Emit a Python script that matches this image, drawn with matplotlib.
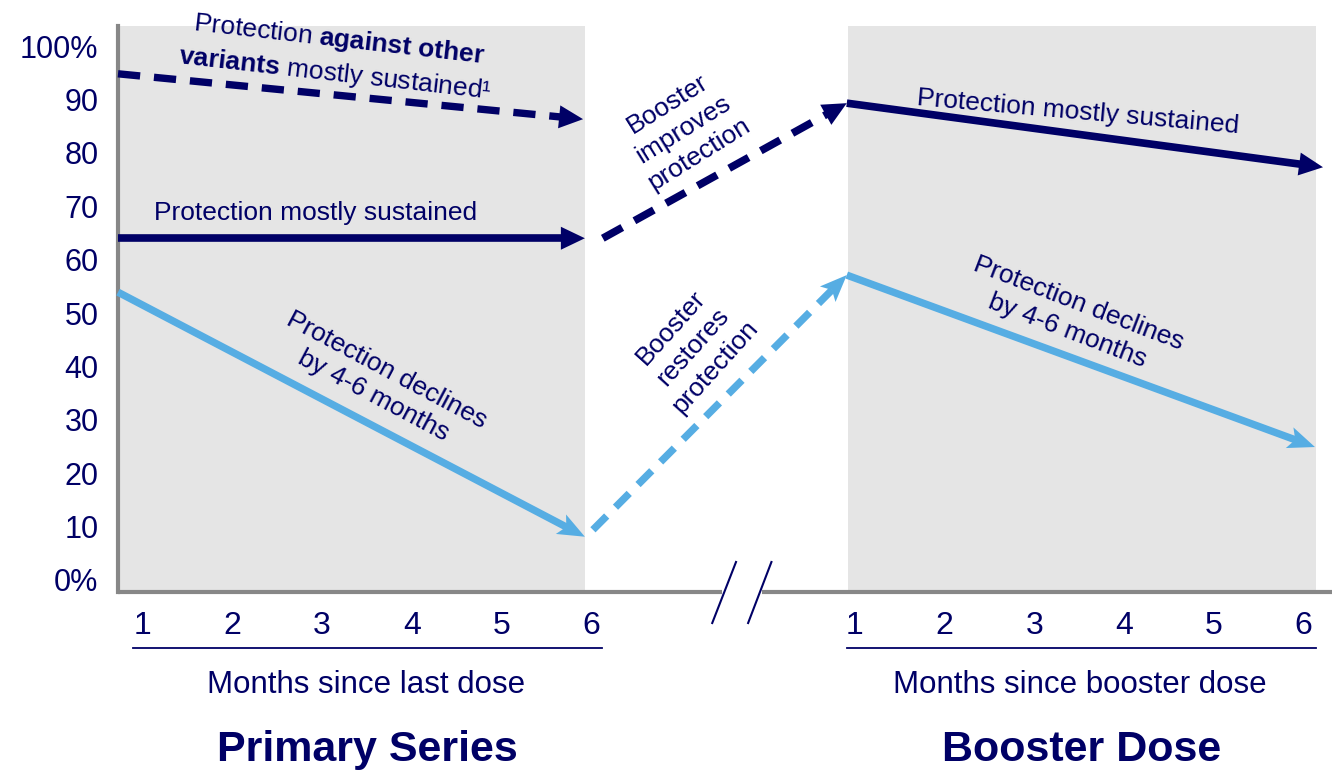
import matplotlib
matplotlib.use('Agg')
import matplotlib.pyplot as plt
import matplotlib.transforms as mtransforms
from matplotlib.patches import Polygon
from matplotlib.lines import Line2D
import numpy as np

plt.rcParams['font.family'] = ['Liberation Sans', 'DejaVu Sans']
plt.rcParams['mathtext.fontset'] = 'custom'
plt.rcParams['mathtext.rm'] = 'Liberation Sans'
plt.rcParams['mathtext.bf'] = 'Liberation Sans:bold'
plt.rcParams['mathtext.it'] = 'Liberation Sans:italic'
plt.rcParams['lines.scale_dashes'] = False

# ---------------- data ----------------
month_labels = ['1', '2', '3', '4', '5', '6']
primary_months = [1, 2, 3, 4, 5, 6]
booster_offset = 7.94
booster_months = [m + booster_offset for m in primary_months]

y_ticks = [0, 10, 20, 30, 40, 50, 60, 70, 80, 90, 100]
y_tick_labels = ['0%', '10', '20', '30', '40', '50', '60', '70', '80', '90', '100%']

# protection level segments (x in month units on a shared axis, y in %)
variants_primary_x = [0.7246, 5.91]
variants_primary_y = [94.8, 86.3]
sustained_primary_x = [0.7246, 5.93]
sustained_primary_y = [64.0, 64.0]
declines_primary_x = [0.7246, 5.93]
declines_primary_y = [53.9, 8.1]
improves_bridge_x = [6.13, 8.85]
improves_bridge_y = [64.0, 89.3]
restores_bridge_x = [6.02, 8.85]
restores_bridge_y = [9.4, 57.1]
sustained_booster_x = [8.85, 14.16]
sustained_booster_y = [89.3, 77.3]
declines_booster_x = [8.85, 14.07]
declines_booster_y = [57.1, 24.9]

primary_panel = [0.7246, 5.93]
booster_panel = [8.86, 14.08]

# ---------------- style ----------------
NAVY = '#000066'
LIGHT = '#56ADE3'
PANEL = '#E5E5E5'
AXIS = '#878787'

W, H = 1342, 772
fig = plt.figure(figsize=(W / 100, H / 100), dpi=100)
ax = fig.add_axes([118 / W, 1 - 592 / H, (1332 - 118) / W, (592 - 26) / H])
ax.set_xlim(0.7246, 14.26)
ax.set_ylim(-2.25, 103.75)


def px(x, y):
    return (x / W, 1 - y / H)


ax.axvspan(*primary_panel, color=PANEL, lw=0, zorder=0)
ax.axvspan(*booster_panel, color=PANEL, lw=0, zorder=0)

for s in ['top', 'right', 'bottom']:
    ax.spines[s].set_visible(False)
ax.spines['left'].set_color(AXIS)
ax.spines['left'].set_linewidth(3)

ax.set_yticks(y_ticks, y_tick_labels)
ax.tick_params(axis='y', length=0, pad=14, labelsize=22, labelcolor=NAVY)
ax.set_xticks(primary_months + booster_months, month_labels + month_labels)
ax.tick_params(axis='x', length=0, pad=13.5, labelsize=23, labelcolor=NAVY)

# broken bottom axis
blend = mtransforms.blended_transform_factory(ax.transData, ax.transAxes)
ax.plot([0.7246, 7.458], [0, 0], transform=blend, color=AXIS, lw=3,
        clip_on=False, solid_capstyle='butt', zorder=3)
ax.plot([7.904, 14.26], [0, 0], transform=blend, color=AXIS, lw=3,
        clip_on=False, solid_capstyle='butt', zorder=3)
for xa, xb in [(7.35, 7.615), (7.75, 8.01)]:
    ax.plot([xa, xb], [-0.0548, 0.053], transform=blend, color=NAVY, lw=1.5,
            clip_on=False, zorder=4)

fig.canvas.draw()
inv = ax.transData.inverted()


def draw_arrow(xs, ys, color, lw, dashed, head_len, head_w, notch, dashes=(16, 10)):
    p0 = ax.transData.transform((xs[0], ys[0]))
    p1 = ax.transData.transform((xs[1], ys[1]))
    d = p1 - p0
    L = np.hypot(*d)
    u = d / L
    n = np.array([-u[1], u[0]])
    back = p1 - u * head_len
    notch_pt = back + u * notch
    stop = inv.transform(back + u * (notch + 2))
    kw = dict(color=color, lw=lw, solid_capstyle='butt', dash_capstyle='butt',
              clip_on=False, zorder=5)
    if dashed:
        kw['linestyle'] = (0, dashes)
    ax.plot([xs[0], stop[0]], [ys[0], stop[1]], **kw)
    pts = np.array([p1, back + n * head_w, notch_pt, back - n * head_w])
    ax.add_patch(Polygon(inv.transform(pts), closed=True, facecolor=color,
                         edgecolor='none', clip_on=False, zorder=6))


draw_arrow(variants_primary_x, variants_primary_y, NAVY, 5.3, True, 24, 11.5, 0)
draw_arrow(sustained_primary_x, sustained_primary_y, NAVY, 5.5, False, 24, 11.5, 0)
draw_arrow(declines_primary_x, declines_primary_y, LIGHT, 5.3, False, 27, 11, 6)
draw_arrow(improves_bridge_x, improves_bridge_y, NAVY, 5.5, True, 24, 11.5, 0)
draw_arrow(restores_bridge_x, restores_bridge_y, LIGHT, 5.3, True, 27, 11, 6, dashes=(14, 9))
draw_arrow(sustained_booster_x, sustained_booster_y, NAVY, 5.5, False, 24, 11.5, 0)
draw_arrow(declines_booster_x, declines_booster_y, LIGHT, 5.3, False, 27, 11, 6)

# ---------------- annotations ----------------
tkw = dict(ha='center', va='center', rotation_mode='anchor', color=NAVY,
           fontsize=19, linespacing=1.3, multialignment='center')
fig.text(*px(337, 57), 'Protection $\\mathbf{against\\ other}$\n$\\mathbf{variants}$ mostly sustained\u00b9',
         rotation=-6.5, **tkw)
fig.text(*px(316, 213), 'Protection mostly sustained', rotation=0, **tkw)
fig.text(*px(380, 383), 'Protection declines\nby 4-6 months', rotation=-28, **tkw)
fig.text(*px(683, 129), 'Booster\nimproves\nprotection', rotation=32, **tkw)
fig.text(*px(693, 347), 'Booster\nrestores\nprotection', rotation=48, **tkw)
fig.text(*px(1078, 112), 'Protection mostly sustained', rotation=-5, **tkw)
fig.text(*px(1073, 317), 'Protection declines\nby 4-6 months', rotation=-21, **tkw)

# underlines and axis titles
for xa, xb in [(133, 602), (847, 1316)]:
    fig.add_artist(Line2D([xa / W, xb / W], [1 - 648 / H, 1 - 648 / H],
                          transform=fig.transFigure, color=NAVY, lw=1.3))
fig.text(*px(366, 685), 'Months since last dose', ha='center', va='center',
         fontsize=22.5, color=NAVY)
fig.text(*px(1080, 685), 'Months since booster dose', ha='center', va='center',
         fontsize=22.5, color=NAVY)
fig.text(*px(367, 750), 'Primary Series', ha='center', va='center',
         fontsize=31, fontweight='bold', color=NAVY)
fig.text(*px(1082, 750), 'Booster Dose', ha='center', va='center',
         fontsize=31, fontweight='bold', color=NAVY)

fig.savefig('out.png', dpi=100)
